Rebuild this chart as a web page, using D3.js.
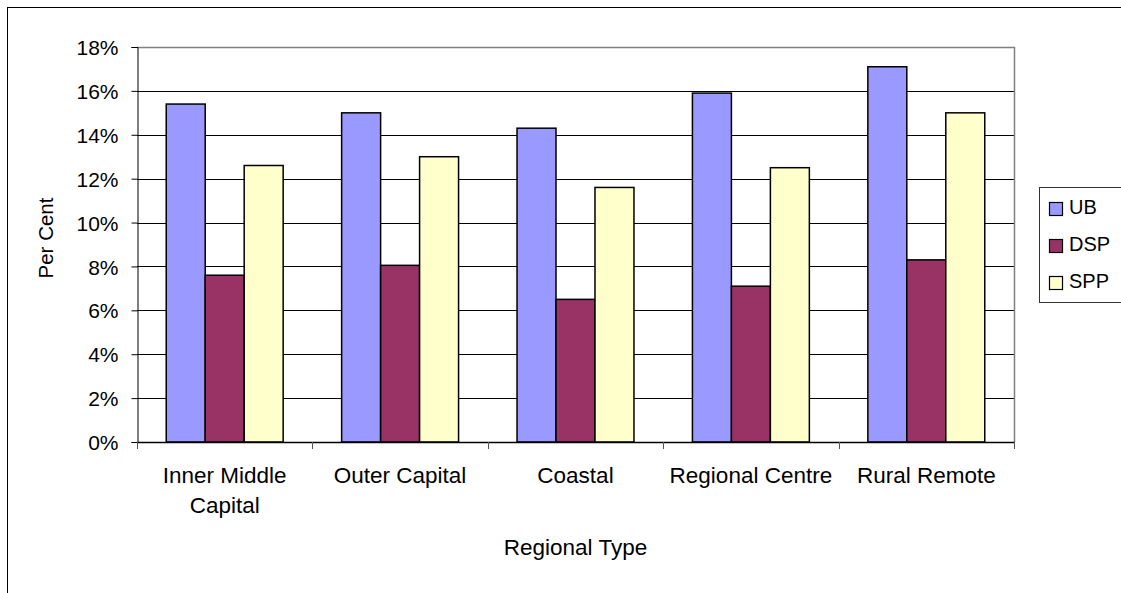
<!DOCTYPE html>
<html>
<head>
<meta charset="utf-8">
<script src="https://cdn.jsdelivr.net/npm/d3@7"></script>
<style>
  body { margin: 0; background: #fff; }
  text { font-family: "Liberation Sans", Arial, sans-serif; fill: #000; }
</style>
</head>
<body>
<svg id="chart" width="1121" height="593"></svg>
<script>
// data
var categories = ["Inner Middle Capital", "Outer Capital", "Coastal", "Regional Centre", "Rural Remote"];
var seriesNames = ["UB", "DSP", "SPP"];
var ubValues = [0.154, 0.150, 0.143, 0.159, 0.171];
var dspValues = [0.076, 0.0805, 0.065, 0.071, 0.083];
var sppValues = [0.126, 0.130, 0.116, 0.125, 0.150];
var yTicks = [0, 0.02, 0.04, 0.06, 0.08, 0.10, 0.12, 0.14, 0.16, 0.18];
var colors = { UB: "#9999FF", DSP: "#993366", SPP: "#FFFFCC" };

var seriesValues = { UB: ubValues, DSP: dspValues, SPP: sppValues };

var svg = d3.select("#chart");

// outer chart border
svg.append("rect")
    .attr("x", 7.5).attr("y", 7.5)
    .attr("width", 1125).attr("height", 600)
    .attr("fill", "none").attr("stroke", "#000").attr("stroke-width", 1);

var plot = { left: 137, right: 1014, top: 47, bottom: 442 };

var x0 = d3.scaleBand().domain(categories).range([plot.left, plot.right]).padding(0);
var x1 = d3.scaleBand().domain(seriesNames).range([0, x0.bandwidth()])
    .paddingInner(0).paddingOuter(0.75);
var y = d3.scaleLinear().domain([0, 0.18]).range([plot.bottom, plot.top]);

// gridlines
svg.append("g")
    .selectAll("line")
    .data(yTicks.slice(1, -1))
    .enter().append("line")
    .attr("x1", plot.left).attr("x2", plot.right)
    .attr("y1", function (d) { return Math.round(y(d)) + 0.5; })
    .attr("y2", function (d) { return Math.round(y(d)) + 0.5; })
    .attr("stroke", "#000");

// plot area border (top, right)
svg.append("path")
    .attr("d", "M" + plot.left + "," + (plot.top + 0.5) + "H" + (plot.right + 0.5) + "V" + plot.bottom)
    .attr("fill", "none").attr("stroke", "#808080").attr("stroke-width", 1.5);

// bars
var groups = svg.append("g").selectAll("g")
    .data(categories)
    .enter().append("g")
    .attr("transform", function (d) { return "translate(" + x0(d) + ",0)"; });

groups.selectAll("rect")
    .data(function (c, i) {
        return seriesNames.map(function (s) { return { key: s, value: seriesValues[s][i] }; });
    })
    .enter().append("rect")
    .attr("x", function (d) { return x1(d.key); })
    .attr("y", function (d) { return y(d.value); })
    .attr("width", x1.bandwidth())
    .attr("height", function (d) { return y(0) - y(d.value); })
    .attr("fill", function (d) { return colors[d.key]; })
    .attr("stroke", "#000")
    .attr("stroke-width", 1.5);

// y axis
var yAxis = d3.axisLeft(y)
    .tickValues(yTicks)
    .tickFormat(d3.format(".0%"))
    .tickSize(6)
    .tickPadding(13);

var gY = svg.append("g")
    .attr("transform", "translate(" + (plot.left + 0.5) + ",0)")
    .call(yAxis);
gY.selectAll("text").style("font-size", "21px").attr("dy", "0.36em");
gY.selectAll("line, path").attr("stroke", "#000");

// x axis line + boundary ticks
svg.append("line")
    .attr("x1", plot.left).attr("x2", plot.right + 1)
    .attr("y1", plot.bottom + 0.5).attr("y2", plot.bottom + 0.5)
    .attr("stroke", "#000").attr("stroke-width", 1.5);

var bounds = categories.map(function (c) { return x0(c); }).concat([plot.right]);
svg.append("g").selectAll("line")
    .data(bounds)
    .enter().append("line")
    .attr("x1", function (d) { return Math.round(d) + 0.5; })
    .attr("x2", function (d) { return Math.round(d) + 0.5; })
    .attr("y1", plot.bottom).attr("y2", plot.bottom + 7)
    .attr("stroke", "#555");

// category labels (wrapped)
var catLabels = svg.append("g").selectAll("text")
    .data(categories)
    .enter().append("text")
    .attr("text-anchor", "middle")
    .style("font-size", "22.5px")
    .attr("x", function (d) { return x0(d) + x0.bandwidth() / 2; })
    .attr("y", 483)
    .text(function (d) { return d; });

catLabels.each(function (d) {
    var t = d3.select(this);
    var maxW = x0.bandwidth() - 4;
    if (this.getComputedTextLength() <= maxW) return;
    var words = d.split(" ");
    var cx = t.attr("x");
    t.text(null);
    var line = [];
    var tspan = t.append("tspan").attr("x", cx).attr("dy", 0);
    words.forEach(function (w) {
        line.push(w);
        tspan.text(line.join(" "));
        if (tspan.node().getComputedTextLength() > maxW && line.length > 1) {
            line.pop();
            tspan.text(line.join(" "));
            line = [w];
            tspan = t.append("tspan").attr("x", cx).attr("dy", 30).text(w);
        }
    });
});

// axis titles
svg.append("text")
    .attr("x", (plot.left + plot.right) / 2)
    .attr("y", 555)
    .attr("text-anchor", "middle")
    .style("font-size", "22.5px")
    .text("Regional Type");

svg.append("text")
    .attr("transform", "translate(53,238) rotate(-90)")
    .attr("text-anchor", "middle")
    .style("font-size", "20.5px")
    .text("Per Cent");

// legend
var legend = svg.append("g");
legend.append("rect")
    .attr("x", 1039.5).attr("y", 187.5)
    .attr("width", 100).attr("height", 115)
    .attr("fill", "#fff").attr("stroke", "#333").attr("stroke-width", 1);

var items = legend.selectAll("g")
    .data(seriesNames)
    .enter().append("g")
    .attr("transform", function (d, i) { return "translate(1049," + (202 + i * 37) + ")"; });

items.append("rect")
    .attr("x", 0.5).attr("y", 0.5)
    .attr("width", 13).attr("height", 13)
    .attr("fill", function (d) { return colors[d]; })
    .attr("stroke", "#000").attr("stroke-width", 1.2);

items.append("text")
    .attr("x", 20).attr("y", 12)
    .style("font-size", "20px")
    .text(function (d) { return d; });
</script>
</body>
</html>
